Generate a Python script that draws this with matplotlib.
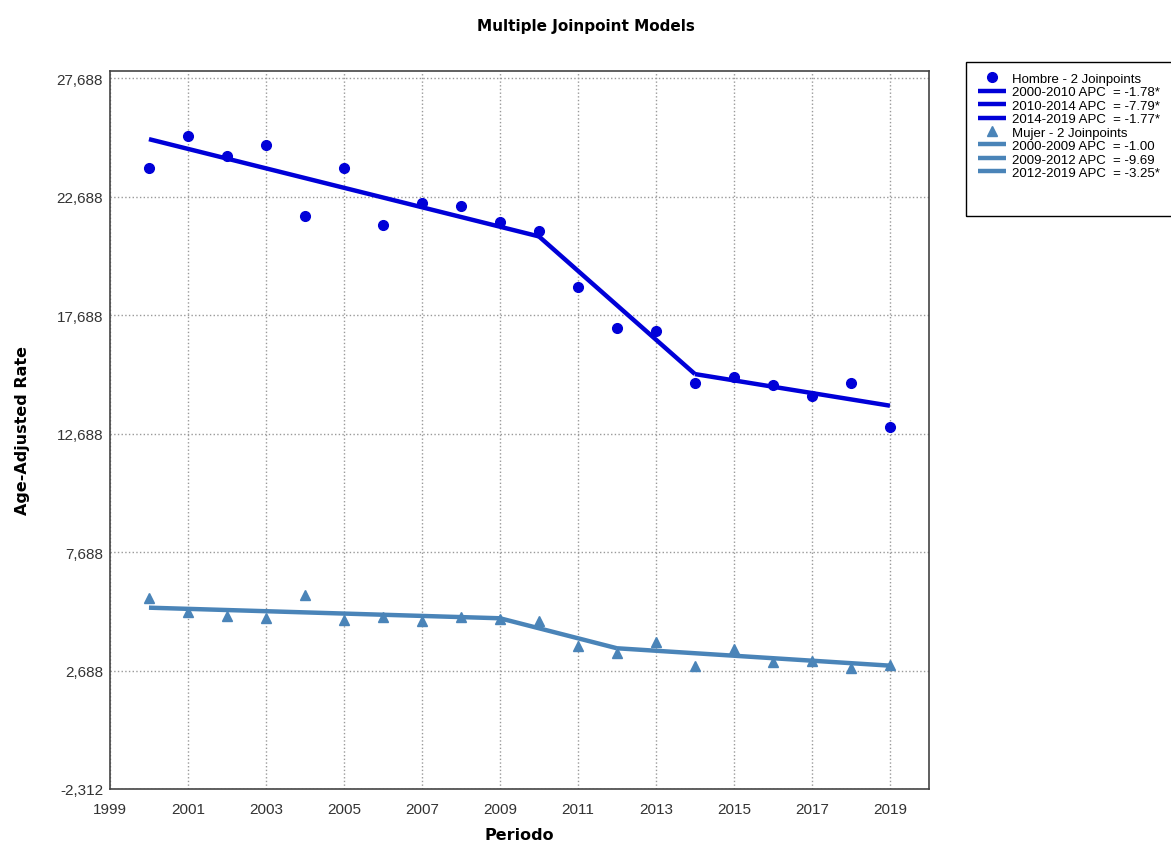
import numpy as np
import matplotlib.pyplot as plt
from matplotlib.patches import Rectangle
from matplotlib.ticker import FuncFormatter

# observed rates
years = np.arange(2000, 2020)
hombre = [23878, 25254, 24410, 24874, 21879, 23878, 21499, 22414, 22274, 21613,
          21233, 18884, 17126, 17028, 14834, 15060, 14749, 14285, 14820, 12950]
mujer = [5736, 5146, 5003, 4905, 5876, 4834, 4935, 4766, 4935, 4863,
         4779, 3737, 3429, 3893, 2880, 3598, 3036, 3104, 2783, 2922]

# joinpoint fits (values at joinpoints)
h_jp_years = [2000, 2010, 2014, 2019]
h_jp_vals = [25114, 21008, 15199, 13864]
h_labels = ['2000-2010 APC  = -1.78*', '2010-2014 APC  = -7.79*', '2014-2019 APC  = -1.77*']

m_jp_years = [2000, 2009, 2012, 2019]
m_jp_vals = [5340, 4893, 3627, 2893]
m_labels = ['2000-2009 APC  = -1.00', '2009-2012 APC  = -9.69', '2012-2019 APC  = -3.25*']

yticks = [-2312, 2688, 7688, 12688, 17688, 22688, 27688]
xticks = list(range(1999, 2020, 2))

c_h = '#0000d8'
c_m = '#4a84b8'

plt.rcParams['font.family'] = ['Liberation Sans', 'DejaVu Sans']

fig = plt.figure(figsize=(11.71, 8.45), dpi=100)
ax = fig.add_axes([0.0939, 0.0651, 0.6994, 0.8497])

ax.plot(years, hombre, 'o', color=c_h, markersize=7, label='Hombre - 2 Joinpoints', zorder=3)
for i in range(3):
    ax.plot(h_jp_years[i:i+2], h_jp_vals[i:i+2], '-', color=c_h, lw=3.2,
            solid_capstyle='butt', label=h_labels[i], zorder=2)

ax.plot(years, mujer, '^', color=c_m, markersize=6.5, label='Mujer - 2 Joinpoints', zorder=3)
for i in range(3):
    ax.plot(m_jp_years[i:i+2], m_jp_vals[i:i+2], '-', color=c_m, lw=3.2,
            solid_capstyle='butt', label=m_labels[i], zorder=2)

ax.set_xlim(1999, 2020)
ax.set_ylim(-2312, 27990)
ax.set_xticks(xticks)
ax.set_yticks(yticks)
ax.yaxis.set_major_formatter(FuncFormatter(lambda v, p: f'{int(v):,}'))
ax.tick_params(labelsize=11, length=0, colors='#333333')
ax.tick_params(axis='x', pad=9.5)
ax.tick_params(axis='y', pad=5)
ax.grid(True, linestyle=':', color='#999999', lw=1)
for s in ax.spines.values():
    s.set_color('#444444')
    s.set_linewidth(1.2)

ax.set_xlabel('Periodo', family='DejaVu Sans', fontweight='bold', fontsize=11.5, labelpad=8)
ax.set_ylabel('Age-Adjusted Rate', family='DejaVu Sans', fontweight='bold', fontsize=11.5, labelpad=19)
fig.suptitle('Multiple Joinpoint Models', family='DejaVu Sans', fontweight='bold', fontsize=11, y=0.978)

# legend box (taller than its entries, as in the original)
fig.patches.append(Rectangle((0.8249, 0.7432), 0.2, 0.1822, transform=fig.transFigure,
                             fill=False, edgecolor='black', lw=1))
fig.legend(loc='upper left', bbox_to_anchor=(0.8308, 0.919), fontsize=9.5,
           frameon=False, labelspacing=0.09, handlelength=2.1, handletextpad=0.5,
           borderpad=0.4, borderaxespad=0)

fig.savefig('out.png', dpi=100)
